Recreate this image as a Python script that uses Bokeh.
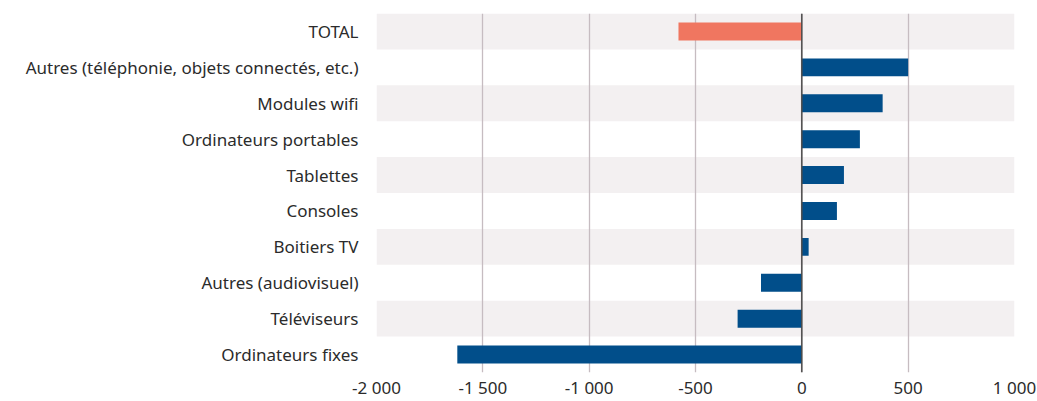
from bokeh.plotting import figure
from bokeh.models import Range1d, FactorRange, FixedTicker, Span, ColumnDataSource
from bokeh.embed import file_html
from bokeh.resources import INLINE

categories = ["TOTAL", "Autres (téléphonie, objets connectés, etc.)", "Modules wifi",
              "Ordinateurs portables", "Tablettes", "Consoles", "Boitiers TV",
              "Autres (audiovisuel)", "Téléviseurs", "Ordinateurs fixes"]
values = [-580, 500, 380, 273, 198, 165, 32, -192, -302, -1620]
tick_values = [-2000, -1500, -1000, -500, 0, 500, 1000]
tick_labels = ["-2 000", "-1 500", "-1 000", "-500", "0", "500", "1 000"]

BLUE = "#014e8a"
ORANGE = "#f07660"
BAND = "#f3f0f1"
FONT = "Noto Sans"

colors = [ORANGE if c == "TOTAL" else BLUE for c in categories]
src = ColumnDataSource(dict(cat=categories, val=values, color=colors))

xmin, xmax = tick_values[0], tick_values[-1]
band_cats = categories[0::2]
band_src = ColumnDataSource(dict(cat=band_cats, l=[xmin] * len(band_cats), r=[xmax] * len(band_cats)))

p = figure(width=1037, height=401, output_backend="svg", toolbar_location=None,
           y_range=FactorRange(factors=list(reversed(categories))),
           x_range=Range1d(xmin, xmax),
           min_border_left=376, min_border_right=23, min_border_top=13, min_border_bottom=10)
p.outline_line_color = None

p.hbar(y="cat", left="l", right="r", height=1.0, source=band_src, fill_color=BAND,
       line_color=None, level="image")
p.hbar(y="cat", left=0, right="val", height=0.5, source=src, fill_color="color", line_color=None)

p.add_layout(Span(location=0, dimension="height", line_color="#4a4a4a", line_width=1.5))

p.xaxis.ticker = FixedTicker(ticks=tick_values)
p.xaxis.major_label_overrides = {v: t for v, t in zip(tick_values, tick_labels)}
for ax in (p.xaxis, p.yaxis):
    ax.axis_line_color = None
    ax.major_tick_line_color = None
    ax.minor_tick_line_color = None
    ax.major_tick_out = 0
    ax.major_tick_in = 0
    ax.minor_tick_out = 0
    ax.minor_tick_in = 0
    ax.major_label_text_font = FONT
    ax.major_label_text_font_size = "17px"
    ax.major_label_text_color = "#2b2b2b"
p.xaxis.major_label_standoff = 3
p.yaxis.major_label_standoff = 18

p.xgrid.grid_line_color = "#c6bcc1"
p.xgrid.grid_line_width = 1.3
p.ygrid.grid_line_color = None

open("out.html", "w").write(file_html(p, INLINE))
